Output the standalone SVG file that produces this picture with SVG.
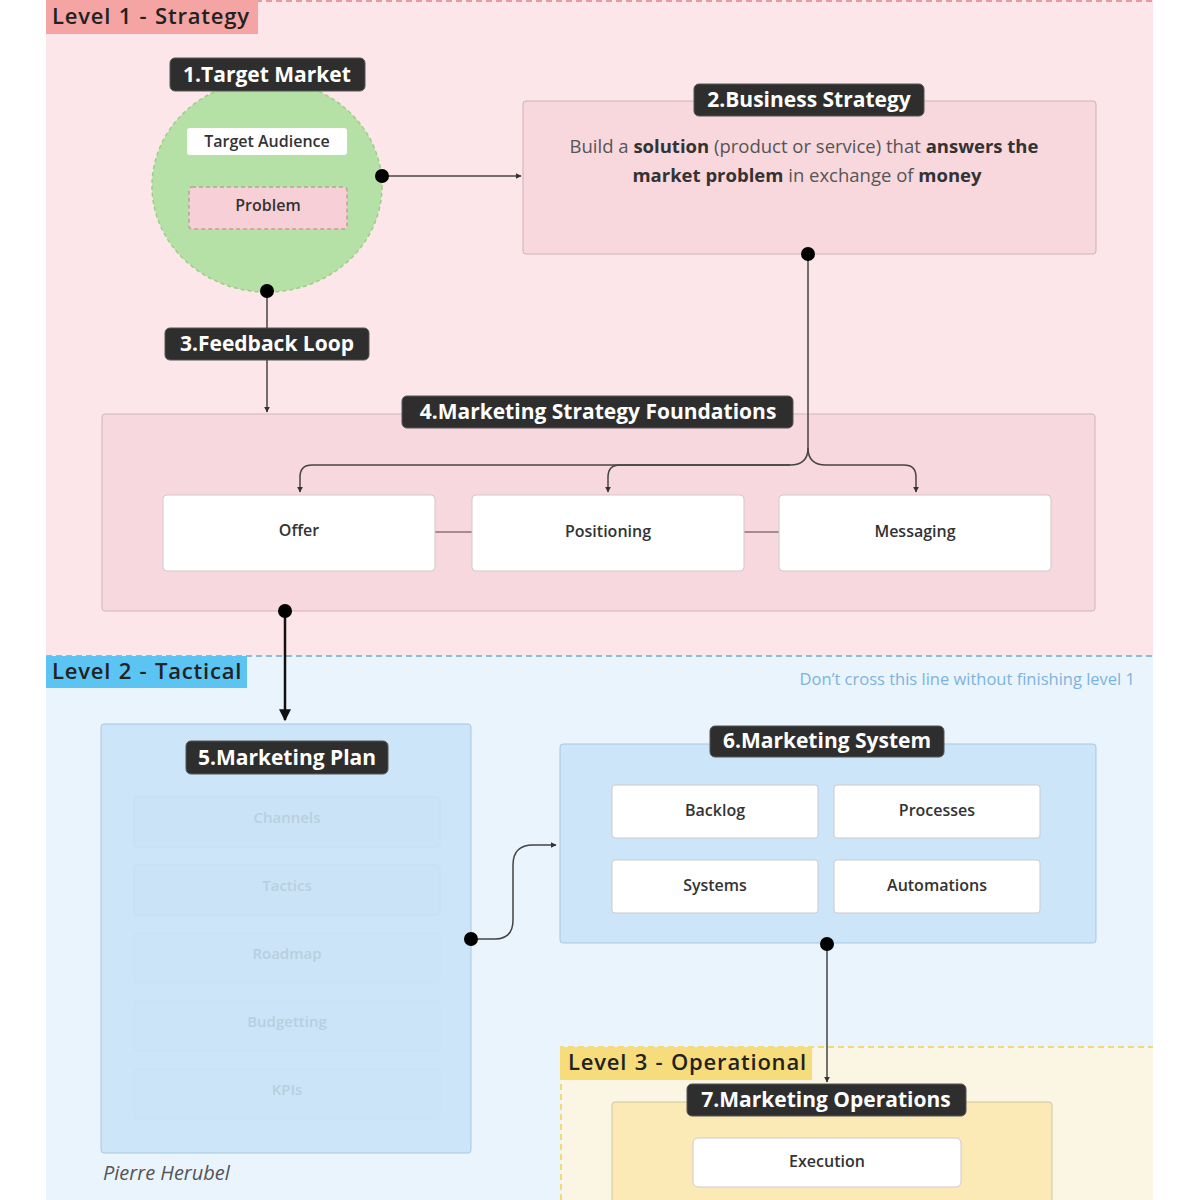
<svg xmlns="http://www.w3.org/2000/svg" width="1200" height="1200" viewBox="0 0 1200 1200">
<defs>
<marker id="arr" viewBox="0 0 10 10" refX="9" refY="5" markerWidth="6" markerHeight="6" orient="auto-start-reverse" markerUnits="userSpaceOnUse"><path d="M0,0 L10,5 L0,10 z" fill="#333"/></marker>
<marker id="arrBig" viewBox="0 0 10 10" refX="9" refY="5" markerWidth="12" markerHeight="12" orient="auto-start-reverse" markerUnits="userSpaceOnUse"><path d="M0,0 L10,5 L0,10 z" fill="#111"/></marker>
</defs>
<style>
text{font-family:"Open Sans","Noto Sans","Liberation Sans",sans-serif}
.tag{fill:#2e2e2e;stroke:#555;stroke-width:1}
.tagt{fill:#fff;font-size:21px;font-weight:700;text-anchor:middle}
.lvl{font-size:22px;fill:#222;font-weight:600;letter-spacing:0.8px;word-spacing:1px}
.item{fill:#fff;stroke:#d0c9ca;stroke-width:1}
.itemt{fill:#333;font-size:16px;font-weight:600;text-anchor:middle}
.fade{fill:#b8cfe0;font-size:15px;font-weight:600;text-anchor:middle}
.faderect{fill:#c9e2f6;stroke:#c2dcf0;stroke-width:1}
.conn{fill:none;stroke:#444;stroke-width:1.5}
.dot{fill:#000}
.bs{fill:#555;font-size:18.5px;text-anchor:middle}
.bs tspan.b{font-weight:700;fill:#333}
</style>
<rect x="0" y="0" width="1200" height="1200" fill="#fff"/>
<!-- Level regions -->
<g id="level1">
<rect x="46" y="0" width="1107" height="656" fill="#fde6e9"/>
<line x1="46" y1="1" x2="1153" y2="1" stroke="#e89a9f" stroke-width="2" stroke-dasharray="6 4"/>
<rect x="46" y="0" width="212" height="34" fill="#f5a4a4"/>
<text class="lvl" x="52" y="24">Level 1 - Strategy</text>
</g>
<g id="level2">
<rect x="46" y="656" width="1107" height="544" fill="#eaf4fd"/>
<line x1="46" y1="656" x2="1153" y2="656" stroke="#8dbbe0" stroke-width="2" stroke-dasharray="6 4"/>
<rect x="46" y="656" width="201" height="32" fill="#5cc4f2"/>
<text class="lvl" x="52" y="679">Level 2 - Tactical</text>
<text x="1135" y="685" font-size="16.5" fill="#7cb3dd" text-anchor="end">Don’t cross this line without finishing level 1</text>
</g>
<g id="level3">
<rect x="561" y="1047" width="592" height="153" fill="#fbf5e3"/>
<path d="M561,1200 V1047 H1153" fill="none" stroke="#f3d97a" stroke-width="2" stroke-dasharray="6 4"/>
<rect x="560" y="1047" width="252" height="33" fill="#f7dc7c"/>
<text class="lvl" x="568" y="1070">Level 3 - Operational</text>
</g>
<!-- Node 1 -->
<g id="node1">
<ellipse cx="267" cy="186" rx="115" ry="106" fill="#b6e1a6" stroke="#9ccf86" stroke-width="1.5" stroke-dasharray="4 3"/>
<rect class="tag" x="170" y="58" width="195" height="33" rx="5"/>
<text class="tagt" x="267" y="82">1.Target Market</text>
<rect x="187" y="128" width="160" height="27" rx="3" fill="#fff"/>
<text class="itemt" x="267" y="147">Target Audience</text>
<rect x="189" y="187" width="158" height="42" rx="3" fill="#f6d0d6" stroke="#c79aa0" stroke-width="1.5" stroke-dasharray="4 3"/>
<text class="itemt" x="268" y="211">Problem</text>
</g>
<!-- Node 2 -->
<g id="node2">
<rect x="523" y="101" width="573" height="153" rx="3" fill="#f8d7dd" stroke="#c9b3b6" stroke-width="1"/>
<rect class="tag" x="694" y="84" width="230" height="32" rx="5"/>
<text class="tagt" x="809" y="107">2.Business Strategy</text>
<text class="bs" x="804" y="153">Build a <tspan class="b">solution</tspan> (product or service) that <tspan class="b">answers the</tspan></text>
<text class="bs" x="807" y="182"><tspan class="b">market problem</tspan> in exchange of <tspan class="b">money</tspan></text>
</g>
<!-- Node 4 -->
<g id="node4">
<rect x="102" y="414" width="993" height="197" rx="3" fill="#f8d8df" stroke="#cdb5b9" stroke-width="1"/>
<rect class="tag" x="402" y="396" width="391" height="32" rx="5"/>
<text class="tagt" x="598" y="419">4.Marketing Strategy Foundations</text>
<line x1="435" y1="532" x2="472" y2="532" stroke="#a88a8f" stroke-width="2"/>
<line x1="744" y1="532" x2="779" y2="532" stroke="#a88a8f" stroke-width="2"/>
<rect class="item" x="163" y="495" width="272" height="76" rx="4"/>
<text class="itemt" x="299" y="536">Offer</text>
<rect class="item" x="472" y="495" width="272" height="76" rx="4"/>
<text class="itemt" x="608" y="537">Positioning</text>
<rect class="item" x="779" y="495" width="272" height="76" rx="4"/>
<text class="itemt" x="915" y="537">Messaging</text>
</g>
<!-- Node 3 label -->
<g id="node3">
<rect class="tag" x="165" y="328" width="204" height="32" rx="5"/>
<text class="tagt" x="267" y="351">3.Feedback Loop</text>
</g>
<!-- Node 5 -->
<g id="node5">
<rect x="101" y="724" width="370" height="429" rx="3" fill="#cce5f8" stroke="#a9c7df" stroke-width="1"/>
<rect class="faderect" x="134" y="797" width="306" height="50" rx="3" opacity="0.6"/>
<rect class="faderect" x="134" y="865" width="306" height="50" rx="3" opacity="0.6"/>
<rect class="faderect" x="134" y="933" width="306" height="50" rx="3" opacity="0.3"/>
<rect class="faderect" x="134" y="1001" width="306" height="50" rx="3" opacity="0.3"/>
<rect class="faderect" x="134" y="1069" width="306" height="50" rx="3" opacity="0.3"/>
<text class="fade" x="287" y="823">Channels</text>
<text class="fade" x="287" y="891">Tactics</text>
<text class="fade" x="287" y="959">Roadmap</text>
<text class="fade" x="287" y="1027">Budgetting</text>
<text class="fade" x="287" y="1095">KPIs</text>
<rect class="tag" x="186" y="741" width="202" height="33" rx="5"/>
<text class="tagt" x="287" y="765">5.Marketing Plan</text>
<text x="103" y="1180" font-size="20" font-style="italic" fill="#555">Pierre Herubel</text>
</g>
<!-- Node 6 -->
<g id="node6">
<rect x="560" y="744" width="536" height="199" rx="3" fill="#cce5f8" stroke="#a9c7df" stroke-width="1"/>
<rect class="tag" x="710" y="726" width="234" height="31" rx="5"/>
<text class="tagt" x="827" y="748">6.Marketing System</text>
<rect class="item" x="612" y="785" width="206" height="53" rx="3"/>
<text class="itemt" x="715" y="816">Backlog</text>
<rect class="item" x="834" y="785" width="206" height="53" rx="3"/>
<text class="itemt" x="937" y="816">Processes</text>
<rect class="item" x="612" y="860" width="206" height="53" rx="3"/>
<text class="itemt" x="715" y="891">Systems</text>
<rect class="item" x="834" y="860" width="206" height="53" rx="3"/>
<text class="itemt" x="937" y="891">Automations</text>
</g>
<!-- Node 7 -->
<g id="node7">
<rect x="612" y="1102" width="440" height="110" rx="3" fill="#fbe9b6" stroke="#cfc5a0" stroke-width="1"/>
<rect class="item" x="693" y="1138" width="268" height="49" rx="5"/>
<text class="itemt" x="827" y="1167">Execution</text>
<rect class="tag" x="687" y="1084" width="279" height="32" rx="5"/>
<text class="tagt" x="826" y="1107">7.Marketing Operations</text>
</g>
<!-- Connectors -->
<g id="connectors">
<line class="conn" x1="382" y1="176" x2="521" y2="176" marker-end="url(#arr)"/>
<line class="conn" x1="267" y1="291" x2="267" y2="328"/>
<line class="conn" x1="267" y1="360" x2="267" y2="412" marker-end="url(#arr)"/>
<path class="conn" d="M808,254 V428"/>
<path class="conn" d="M808,428 V448 Q808,465 790,465 H312 Q300,465 300,477 V492" marker-end="url(#arr)"/>
<path class="conn" d="M790,465 H620 Q608,465 608,477 V492" marker-end="url(#arr)"/>
<path class="conn" d="M808,448 Q808,465 826,465 H904 Q916,465 916,477 V492" marker-end="url(#arr)"/>
<line x1="285" y1="611" x2="285" y2="720" stroke="#111" stroke-width="2.5" marker-end="url(#arrBig)"/>
<path class="conn" d="M471,939 H495 Q513,939 513,920 V865 Q513,845 533,845 H556" marker-end="url(#arr)"/>
<line class="conn" x1="827" y1="944" x2="827" y2="1082" marker-end="url(#arr)"/>
<circle class="dot" cx="382" cy="176" r="7"/>
<circle class="dot" cx="267" cy="291" r="7"/>
<circle class="dot" cx="808" cy="254" r="7"/>
<circle class="dot" cx="285" cy="611" r="7"/>
<circle class="dot" cx="471" cy="939" r="7"/>
<circle class="dot" cx="827" cy="944" r="7"/>
</g>
</svg>
